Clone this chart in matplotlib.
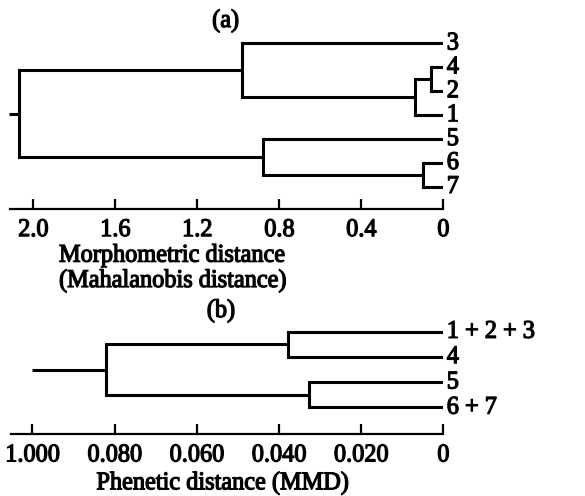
import matplotlib
matplotlib.use("Agg")
import matplotlib.pyplot as plt
from matplotlib.patheffects import AbstractPathEffect
from matplotlib.transforms import Affine2D

# (a) morphometric (Mahalanobis) dendrogram
leaves_a = ['3', '4', '2', '1', '5', '6', '7']
# merges: (child, child, height); "n<i>" refers to the i-th merge
merges_a = [('4', '2', 0.06), ('n0', '1', 0.137), ('3', 'n1', 0.98),
            ('6', '7', 0.10), ('5', 'n3', 0.88), ('n2', 'n4', 2.07)]
root_a = 2.117
ticks_a = [2.0, 1.6, 1.2, 0.8, 0.4, 0]
ticklabels_a = ['2.0', '1.6', '1.2', '0.8', '0.4', '0']

# (b) phenetic (MMD) dendrogram; axis is broken, root drawn at the "1.000" mark
leaves_b = ['1 + 2 + 3', '4', '5', '6 + 7']
merges_b = [('1 + 2 + 3', '4', 0.0377), ('5', '6 + 7', 0.0328), ('n0', 'n1', 0.0822)]
root_b = 0.100
ticks_b = [0.100, 0.080, 0.060, 0.040, 0.020, 0]
ticklabels_b = ['1.000', '0.080', '0.060', '0.040', '0.020', '0']

plt.rcParams['font.family'] = ['Liberation Serif', 'DejaVu Serif']
FS = 17.5
LW = 2.2

W, H = 585.0, 496.0
fig = plt.figure(figsize=(W / 100, H / 100), dpi=100)


class Heavy(AbstractPathEffect):
    # scanned print look: slightly taller glyphs, thicker strokes
    def __init__(self, sy=1.05, lw=0.9):
        super().__init__()
        self.sy = sy
        self.lw = lw

    def draw_path(self, renderer, gc, tpath, affine, rgbFace):
        gc0 = renderer.new_gc()
        gc0.copy_properties(gc)
        gc0.set_linewidth(self.lw)
        renderer.draw_path(gc0, tpath, Affine2D().scale(1, self.sy) + affine, rgbFace)
        gc0.restore()


PE = [Heavy()]


def px_axes(left, right, top, bottom):
    return fig.add_axes([left / W, 1 - bottom / H, (right - left) / W, (bottom - top) / H])


def draw_dendro(ax, leaves, merges, root):
    pos = {name: (i, 0.0) for i, name in enumerate(leaves)}
    for k, (a, b, h) in enumerate(merges):
        ya, ha = pos[a]
        yb, hb = pos[b]
        ax.plot([ha, h], [ya, ya], color='black', lw=LW, solid_capstyle='butt')
        ax.plot([hb, h], [yb, yb], color='black', lw=LW, solid_capstyle='butt')
        ax.plot([h, h], [ya, yb], color='black', lw=LW, solid_capstyle='projecting')
        pos['n%d' % k] = ((ya + yb) / 2.0, h)
    y, h = pos['n%d' % (len(merges) - 1)]
    ax.plot([h, root], [y, y], color='black', lw=LW, solid_capstyle='butt', clip_on=False)
    for i, name in enumerate(leaves):
        ax.annotate(name, xy=(0, i), xytext=(2.5, -0.5), textcoords='offset points',
                    ha='left', va='center', fontsize=FS, annotation_clip=False,
                    path_effects=PE)


def style_axis(ax, ticks, labels):
    for s in ['top', 'left', 'right']:
        ax.spines[s].set_visible(False)
    ax.spines['bottom'].set_linewidth(1.6)
    ax.set_yticks([])
    ax.set_xticks(ticks)
    ax.set_xticklabels(labels, fontsize=FS, path_effects=PE)
    ax.tick_params(axis='x', direction='in', length=7, width=1.6, pad=8)
    ax.patch.set_alpha(0)


ax_a = px_axes(10, 443.3, 31.35, 209)
draw_dendro(ax_a, leaves_a, merges_a, root_a)
ax_a.set_xlim(2.114, 0)
ax_a.set_ylim(6.93, -0.5)
style_axis(ax_a, ticks_a, ticklabels_a)

ax_b = px_axes(11, 443.3, 319, 434.3)
draw_dendro(ax_b, leaves_b, merges_b, root_b)
ax_b.set_xlim(0.1052, 0)
ax_b.set_ylim(4.06, -0.5)
style_axis(ax_b, ticks_b, ticklabels_b)

fig.text(225.7 / W, 1 - 27 / H, '(a)', ha='center', va='baseline', fontsize=FS, path_effects=PE)
fig.text(221 / W, 1 - 317 / H, '(b)', ha='center', va='baseline', fontsize=FS, path_effects=PE)
fig.text(172 / W, 1 - 261.7 / H, 'Morphometric distance', ha='center', va='baseline',
         fontsize=FS, path_effects=PE)
fig.text(173 / W, 1 - 287 / H, '(Mahalanobis distance)', ha='center', va='baseline',
         fontsize=FS, path_effects=PE)
fig.text(223 / W, 1 - 489.3 / H, 'Phenetic distance (MMD)', ha='center', va='baseline',
         fontsize=FS, path_effects=PE)

fig.savefig('out.png', dpi=100)
